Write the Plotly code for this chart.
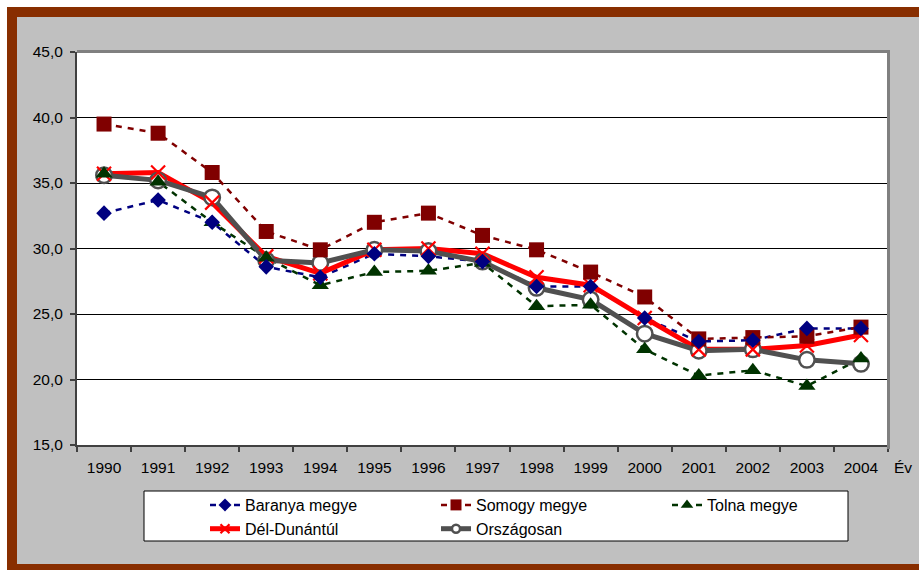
import plotly.graph_objects as go

years = ["1990", "1991", "1992", "1993", "1994", "1995", "1996", "1997",
         "1998", "1999", "2000", "2001", "2002", "2003", "2004"]

baranya = [32.7, 33.7, 32.0, 28.6, 27.8, 29.6, 29.4, 29.0, 27.1, 27.1, 24.7, 22.9, 23.0, 23.9, 23.9]
somogy = [39.5, 38.8, 35.8, 31.3, 29.9, 32.0, 32.7, 31.0, 29.9, 28.2, 26.3, 23.1, 23.2, 23.3, 24.0]
tolna = [35.7, 35.1, 32.0, 29.3, 27.2, 28.2, 28.3, 28.9, 25.6, 25.7, 22.3, 20.3, 20.7, 19.5, 21.6]
del_dunantul = [35.7, 35.8, 33.5, 29.4, 28.1, 29.9, 30.0, 29.6, 27.8, 27.2, 24.7, 22.3, 22.3, 22.6, 23.4]
orszagosan = [35.6, 35.2, 33.9, 29.1, 28.9, 29.9, 29.8, 29.0, 27.0, 26.1, 23.5, 22.2, 22.3, 21.5, 21.2]

y_ticks = [15, 20, 25, 30, 35, 40, 45]

series = [
    dict(name="Baranya megye", y=baranya, color="#000080", width=2.5, dash="6px,6px",
         symbol="diamond", size=12, lsize=10, mline=0, fill="#000080"),
    dict(name="Somogy megye", y=somogy, color="#800000", width=2.5, dash="6px,6px",
         symbol="square", size=15, lsize=11, mline=0, fill="#800000"),
    dict(name="Tolna megye", y=tolna, color="#003300", width=2.5, dash="6px,6px",
         symbol="triangle-up", size=15, lsize=11, mline=0, fill="#003300"),
    dict(name="Dél-Dunántúl", y=del_dunantul, color="#FF0000", width=5, dash="solid",
         symbol="x-thin", size=14, lsize=9, mline=2.2, fill="#FF0000"),
    dict(name="Országosan", y=orszagosan, color="#505050", width=5, dash="solid",
         symbol="circle", size=15.5, lsize=8, mline=2.5, fill="#FFFFFF"),
]

FONT = "Liberation Sans, Arial, sans-serif"

fig = go.Figure()

# lines first
for s in series:
    fig.add_trace(go.Scatter(
        x=years, y=s["y"], mode="lines", showlegend=False, hoverinfo="skip",
        line=dict(color=s["color"], width=s["width"], dash=s["dash"]),
    ))

# markers in reverse order
for s in reversed(series):
    fig.add_trace(go.Scatter(
        x=years, y=s["y"], mode="markers", showlegend=False, name=s["name"],
        marker=dict(symbol=s["symbol"], size=s["size"], color=s["fill"],
                    line=dict(color=s["color"], width=s["mline"])),
    ))

# legend entries
for s in series:
    fig.add_trace(go.Scatter(
        x=[None], y=[None], mode="lines+markers", name=s["name"], showlegend=True,
        line=dict(color=s["color"], width=s["width"], dash=s["dash"]),
        marker=dict(symbol=s["symbol"], size=s["lsize"],
                    color=s["color"] if s["symbol"] != "circle" else "#FFFFFF",
                    line=dict(color=s["color"], width=s["mline"])),
    ))

W, H = 919, 570
L, R, T, B = 77, 888, 52, 445
pw, ph = R - L, B - T


def px(x):
    return (x - L) / pw


def py(y):
    return (B - y) / ph


shapes = [
    # white strips
    dict(type="rect", xref="paper", yref="paper", x0=px(0), x1=px(W), y0=py(0), y1=py(7),
         fillcolor="#FFFFFF", line=dict(width=0), layer="below"),
    dict(type="rect", xref="paper", yref="paper", x0=px(0), x1=px(7), y0=py(0), y1=py(H),
         fillcolor="#FFFFFF", line=dict(width=0), layer="below"),
    # brown frame
    dict(type="rect", xref="paper", yref="paper", x0=px(7), x1=px(W), y0=py(7), y1=py(17),
         fillcolor="#882E00", line=dict(width=0), layer="below"),
    dict(type="rect", xref="paper", yref="paper", x0=px(7), x1=px(17), y0=py(7), y1=py(H),
         fillcolor="#882E00", line=dict(width=0), layer="below"),
    dict(type="rect", xref="paper", yref="paper", x0=px(7), x1=px(W), y0=py(564), y1=py(H),
         fillcolor="#882E00", line=dict(width=0), layer="below"),
    # plot area top / right shadow border
    dict(type="line", xref="paper", yref="paper", x0=0, x1=px(R + 1.5), y0=py(T - 0.5), y1=py(T - 0.5),
         line=dict(color="#808080", width=3), layer="above"),
    dict(type="line", xref="paper", yref="paper", x0=px(R + 0.5), x1=px(R + 0.5), y0=py(T - 2), y1=py(B + 4),
         line=dict(color="#808080", width=3), layer="above"),
    # legend box
    dict(type="rect", xref="paper", yref="paper", x0=px(144), x1=px(848), y0=py(491), y1=py(541),
         fillcolor="#FFFFFF", line=dict(color="#000000", width=1), layer="below"),
]

fig.update_layout(
    width=W, height=H,
    margin=dict(l=L, r=W - R, t=T, b=H - B, pad=0, autoexpand=False),
    paper_bgcolor="#C0C0C0",
    plot_bgcolor="#FFFFFF",
    separators=", ",
    font=dict(family=FONT, size=15.5, color="#000000"),
    showlegend=True,
    legend=dict(
        orientation="h", x=px(205), y=py(488), xanchor="left", yanchor="top",
        bgcolor="rgba(0,0,0,0)", borderwidth=0,
        entrywidth=186, entrywidthmode="pixels",
        font=dict(family=FONT, size=16, color="#000000"),
        traceorder="normal",
    ),
    xaxis=dict(
        type="category", range=[-0.5, 14.5], tickson="boundaries",
        ticks="outside", ticklen=5, tickwidth=1.5, tickcolor="#404040",
        showline=True, linecolor="#404040", linewidth=2,
        showgrid=False, zeroline=False, ticklabelstandoff=7,
        tickfont=dict(family=FONT, size=15.5, color="#000000"),
        fixedrange=True,
    ),
    yaxis=dict(
        range=[15, 45], tickmode="array", tickvals=y_ticks, tickformat=".1f",
        ticks="outside", ticklen=5, tickwidth=1.5, tickcolor="#404040",
        showline=True, linecolor="#404040", linewidth=2, ticklabelstandoff=4,
        showgrid=True, gridcolor="#000000", gridwidth=1, zeroline=False,
        tickfont=dict(family=FONT, size=15.5, color="#000000"),
        fixedrange=True,
    ),
    shapes=shapes,
    annotations=[
        dict(text="Év", xref="paper", yref="paper", x=px(903), y=py(467),
             xanchor="center", yanchor="middle", showarrow=False,
             font=dict(family=FONT, size=15.5, color="#000000")),
    ],
)

fig.write_html("out.html", config={"displayModeBar": False},
               post_script="document.body.style.margin='0';document.body.style.padding='0';")
